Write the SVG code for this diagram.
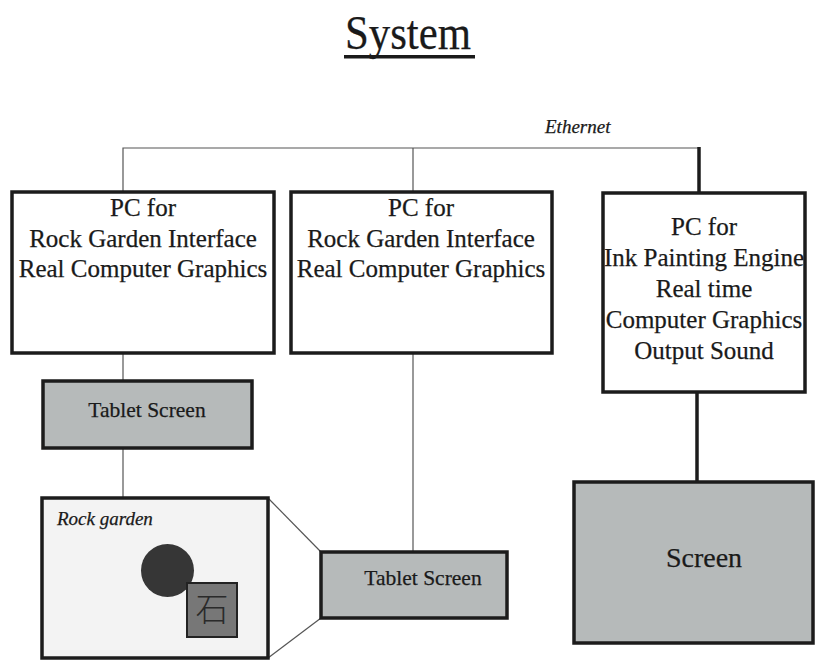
<svg xmlns="http://www.w3.org/2000/svg" width="821" height="661" viewBox="0 0 821 661">
  <style>
    .serif { font-family: "Liberation Serif", "Times New Roman", serif; fill: #1a1a1a; stroke: #1a1a1a; stroke-width: 0.25; }
    .pc { font-size: 25px; text-anchor: middle; }
    .box { fill: #ffffff; stroke: #1c1c1c; stroke-width: 3.5; }
    .gray { fill: #b6baba; stroke: #1c1c1c; stroke-width: 3.5; }
    .thin { stroke: #555555; stroke-width: 1.2; fill: none; }
    .thick { stroke: #1c1c1c; stroke-width: 3.5; fill: none; }
    .label { font-size: 21.5px; text-anchor: middle; }
  </style>
  <rect width="821" height="661" fill="#ffffff"/>

  <!-- heading -->
  <g id="title">
    <text class="serif" x="345" y="49" font-size="48" textLength="126" lengthAdjust="spacingAndGlyphs">System</text>
    <rect x="344" y="55" width="131" height="3.5" fill="#1a1a1a"/>
  </g>

  <!-- network and cabling -->
  <g id="connectors">
    <text class="serif" x="545" y="133" font-size="19" font-style="italic" stroke-width="0.15">Ethernet</text>
    <polyline class="thin" points="123,192 123,148 699,148"/>
    <line class="thin" x1="413" y1="148" x2="413" y2="192"/>
    <line class="thick" x1="699" y1="147" x2="699" y2="193"/>
    <line class="thin" x1="123" y1="353" x2="123" y2="381"/>
    <line class="thin" x1="123" y1="448" x2="123" y2="498"/>
    <line class="thin" x1="413" y1="353" x2="413" y2="552"/>
    <line class="thick" x1="697" y1="392" x2="697" y2="482"/>
    <!-- zoom outline from the tablet view to the rock garden -->
    <line class="thin" x1="268" y1="498" x2="321" y2="552" stroke="#333"/>
    <line class="thin" x1="268" y1="658" x2="321" y2="618" stroke="#333"/>
  </g>

  <g id="pc1">
    <rect class="box" x="12" y="192" width="262" height="161"/>
    <text class="serif pc" x="143" y="216">PC for</text>
    <text class="serif pc" x="143" y="247">Rock Garden Interface</text>
    <text class="serif pc" x="143" y="277">Real Computer Graphics</text>
  </g>

  <g id="pc2">
    <rect class="box" x="291" y="192" width="261" height="161"/>
    <text class="serif pc" x="421" y="216">PC for</text>
    <text class="serif pc" x="421" y="247">Rock Garden Interface</text>
    <text class="serif pc" x="421" y="277">Real Computer Graphics</text>
  </g>

  <g id="pc3">
    <rect class="box" x="603" y="193" width="202" height="199" fill="#f7f7f7"/>
    <text class="serif pc" x="704" y="235">PC for</text>
    <text class="serif pc" x="704" y="266">Ink Painting Engine</text>
    <text class="serif pc" x="704" y="297">Real time</text>
    <text class="serif pc" x="704" y="328">Computer Graphics</text>
    <text class="serif pc" x="704" y="359">Output Sound</text>
  </g>

  <g id="tablet1">
    <rect class="gray" x="43" y="381" width="209" height="67"/>
    <text class="serif label" x="147" y="417">Tablet Screen</text>
  </g>

  <g id="rockgarden">
    <rect x="42" y="498" width="226" height="160" fill="#f3f3f3" stroke="#1c1c1c" stroke-width="3.5"/>
    <text class="serif" x="57" y="525" font-size="19" font-style="italic" stroke-width="0.15">Rock garden</text>
    <circle cx="167.5" cy="570.5" r="26.5" fill="#363636"/>
    <rect x="187" y="583" width="50" height="54" fill="#777777" stroke="#222222" stroke-width="2"/>
    <text x="212" y="621" font-size="33" text-anchor="middle" fill="#2a2a2a" font-family="'Noto Sans CJK JP', 'Noto Sans CJK SC', sans-serif" font-weight="300">石</text>
  </g>

  <g id="tablet2">
    <rect class="gray" x="321" y="552" width="186" height="66"/>
    <text class="serif label" x="423" y="585">Tablet Screen</text>
  </g>

  <g id="screen">
    <rect class="gray" x="574" y="482" width="239" height="161" fill="#babebe"/>
    <text class="serif" x="704" y="567" font-size="28" text-anchor="middle">Screen</text>
  </g>
</svg>
